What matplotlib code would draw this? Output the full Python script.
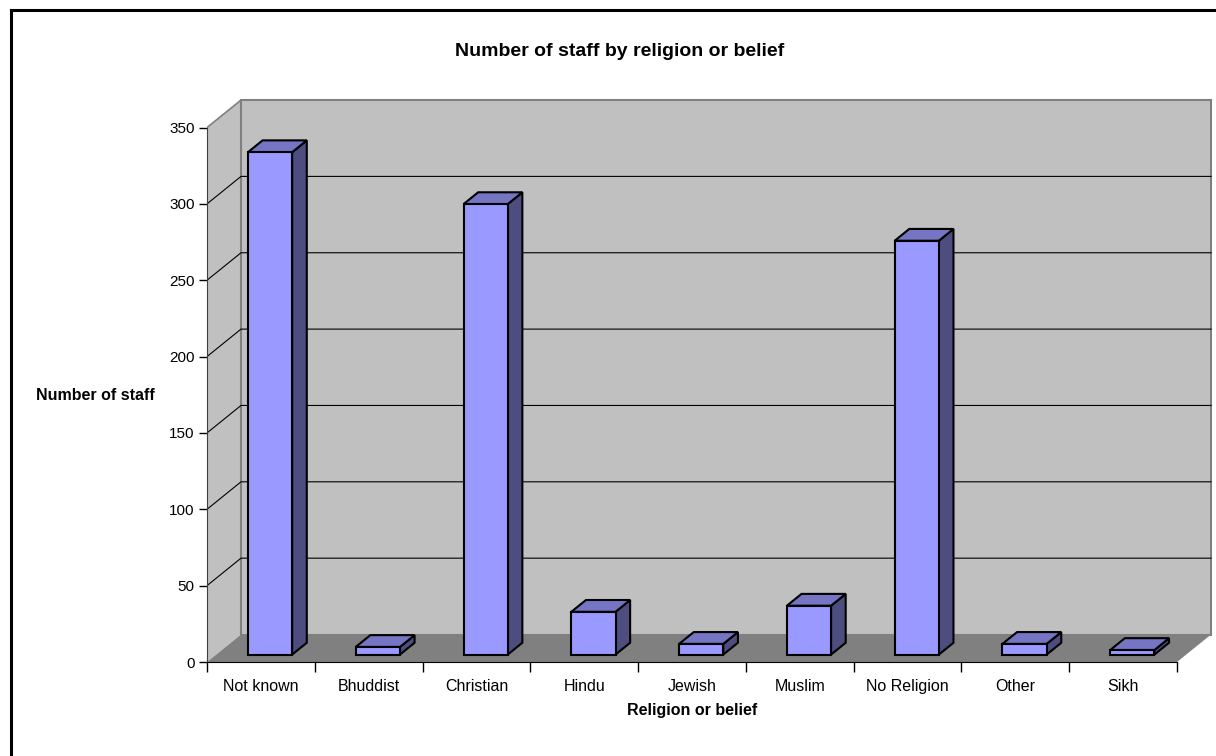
import matplotlib
matplotlib.use("Agg")
import matplotlib.pyplot as plt
from matplotlib.patches import Polygon
from matplotlib.lines import Line2D

# ------------------ DATA ------------------ #
categories = ["Not known", "Bhuddist", "Christian", "Hindu", "Jewish",
              "Muslim", "No Religion", "Other", "Sikh"]
staff = [329, 5, 295, 28, 7, 32, 271, 7, 3]
y_ticks = [0, 50, 100, 150, 200, 250, 300, 350]

plt.rcParams["font.family"] = ["Liberation Sans", "DejaVu Sans"]

W, H = 1216, 756
fig = plt.figure(figsize=(W / 100, H / 100), dpi=100)

# oblique depth of the 3-D box (data units) and bar placement inside it
DX, DY = 0.3155, 18.0
BAR_W = 0.41
D0, D1 = 0.27, 0.70
n = len(categories)
ymax = y_ticks[-1]

ax = fig.add_axes([207 / W, (H - 662) / H, (1214 - 207) / W, (662 - 97) / H])
ax.set_xlim(0, 9.343)
ax.set_ylim(0, 370)

# ---------- walls and floor ---------- #
side_wall = [(0, 0), (DX, DY), (DX, ymax + DY), (0, ymax)]
back_wall = [(DX, DY), (n + DX, DY), (n + DX, ymax + DY), (DX, ymax + DY)]
floor = [(0, 0), (n, 0), (n + DX, DY), (DX, DY)]
ax.add_patch(Polygon(side_wall, closed=True, fc="#c0c0c0", ec="none", zorder=1))
ax.add_patch(Polygon(back_wall, closed=True, fc="#c0c0c0", ec="#808080", lw=1.5, zorder=1))
ax.add_patch(Polygon(floor, closed=True, fc="#808080", ec="none", zorder=1))
ax.plot([0, DX], [ymax, ymax + DY], color="#808080", lw=1.2, zorder=2)

# gridlines run across the side wall and along the back wall
for v in y_ticks[1:-1]:
    ax.plot([0, DX, n + DX], [v, v + DY, v + DY], color="black", lw=0.8, zorder=2)

# ---------- bars ---------- #
ddx, ddy = (D1 - D0) * DX, (D1 - D0) * DY
for i, v in enumerate(staff):
    x0 = i + 0.5 - BAR_W / 2 + D0 * DX
    x1 = x0 + BAR_W
    y0 = D0 * DY
    y1 = y0 + v
    front = [(x0, y0), (x1, y0), (x1, y1), (x0, y1)]
    top = [(x0, y1), (x1, y1), (x1 + ddx, y1 + ddy), (x0 + ddx, y1 + ddy)]
    side = [(x1, y0), (x1 + ddx, y0 + ddy), (x1 + ddx, y1 + ddy), (x1, y1)]
    ax.add_patch(Polygon(side, closed=True, fc="#4d4d80", ec="black", lw=1.5, zorder=3))
    ax.add_patch(Polygon(top, closed=True, fc="#7575c4", ec="black", lw=1.5, zorder=3))
    ax.add_patch(Polygon(front, closed=True, fc="#9999ff", ec="black", lw=1.5, zorder=4))

# ---------- axes ---------- #
for s in ["top", "right"]:
    ax.spines[s].set_visible(False)
ax.spines["left"].set_bounds(0, ymax)
ax.spines["bottom"].set_bounds(0, n)
ax.spines["left"].set_color("#404040")
ax.spines["left"].set_zorder(5)
ax.spines["bottom"].set_zorder(5)

ax.set_yticks(y_ticks)
ax.set_yticklabels([str(t) for t in y_ticks])
ax.set_xticks(range(n + 1))
ax.set_xticklabels([])
ax.set_xticks([i + 0.5 for i in range(n)], minor=True)
ax.set_xticklabels(categories, minor=True)
ax.tick_params(axis="y", direction="out", length=6, width=1, labelsize=11, pad=3)
ax.tick_params(axis="x", which="major", direction="out", length=7, width=1)
ax.tick_params(axis="x", which="minor", length=0, labelsize=11.5, pad=12.5)
ax.set_facecolor("white")

# ---------- titles and border ---------- #
fig.text(620 / W, 1 - 52 / H, "Number of staff by religion or belief",
         ha="center", va="center", fontsize=14, fontweight="bold")
fig.text(95.5 / W, 1 - 396 / H, "Number of staff",
         ha="center", va="center", fontsize=11.5, fontweight="bold")
fig.text(692 / W, 1 - 711 / H, "Religion or belief",
         ha="center", va="center", fontsize=11.5, fontweight="bold")

fig.add_artist(Line2D([10.5 / W, 10.5 / W], [0, 1 - 9.5 / H],
                      color="black", lw=2.2, transform=fig.transFigure))
fig.add_artist(Line2D([10.5 / W, 1], [1 - 9.5 / H, 1 - 9.5 / H],
                      color="black", lw=2.2, transform=fig.transFigure))

fig.savefig("out.png", dpi=100)
